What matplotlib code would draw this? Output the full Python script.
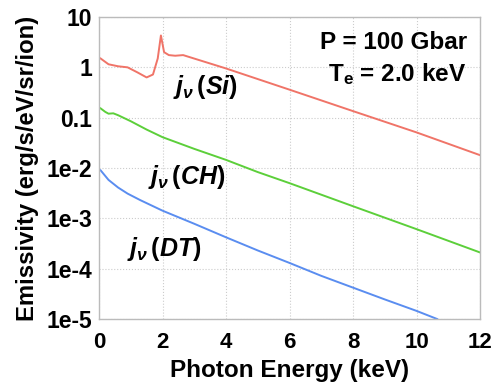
import matplotlib
matplotlib.use("Agg")
import matplotlib.pyplot as plt
import numpy as np

plt.rcParams['font.family'] = ['Liberation Sans', 'DejaVu Sans']
plt.rcParams['mathtext.fontset'] = 'custom'
plt.rcParams['mathtext.rm'] = 'Liberation Sans:bold'
plt.rcParams['mathtext.it'] = 'Liberation Sans:bold:italic'
plt.rcParams['mathtext.bf'] = 'Liberation Sans:bold'

# Data (photon energy in keV, emissivity)
si_x = [0.05, 0.3, 0.6, 0.9, 1.2, 1.5, 1.7, 1.85, 1.95, 2.05, 2.2, 2.4, 2.65, 4.0, 6.0, 8.0, 10.0, 12.0]
si_y = [1.5, 1.15, 1.05, 1.0, 0.8, 0.63, 0.72, 1.5, 4.3, 2.0, 1.75, 1.7, 1.75, 0.95, 0.36, 0.135, 0.051, 0.018]

ch_x = [0.05, 0.2, 0.3, 0.45, 0.6, 1.0, 1.5, 2.0, 3.0, 4.0, 5.0, 6.0, 8.0, 10.0, 12.0]
ch_y = [0.153, 0.13, 0.12, 0.122, 0.112, 0.085, 0.058, 0.041, 0.024, 0.0145, 0.0083, 0.0050, 0.00174, 0.00061, 0.00021]

dt_x = [0.05, 0.3, 0.6, 0.9, 1.3, 2.0, 3.0, 4.0, 5.0, 6.0, 7.0, 8.0, 9.0, 10.0, 10.65]
dt_y = [0.0090, 0.0058, 0.0041, 0.0031, 0.0023, 0.00142, 0.00078, 0.00042, 0.00023, 0.00013, 0.000072, 0.000042, 0.0000245, 0.0000145, 0.0000100]

xticks = [0, 2, 4, 6, 8, 10, 12]
yticks = [1e-5, 1e-4, 1e-3, 1e-2, 0.1, 1, 10]
ytick_labels = ['1e-5', '1e-4', '1e-3', '1e-2', '0.1', '1', '10']

fig = plt.figure(figsize=(4.94, 3.83), dpi=100)
ax = fig.add_axes([99/494, 1 - 319/383, (480-99)/494, (319-17)/383])

ax.plot(si_x, si_y, color='#f07468', lw=1.4)
ax.plot(ch_x, ch_y, color='#5ccf3a', lw=1.4)
ax.plot(dt_x, dt_y, color='#5a8df0', lw=1.4)

ax.set_yscale('log')
ax.set_xlim(0, 12)
ax.set_ylim(1e-5, 10)
ax.set_xticks(xticks)
ax.set_xticklabels([str(t) for t in xticks])
ax.set_yticks(yticks)
ax.set_yticklabels(ytick_labels)
ax.minorticks_off()
ax.tick_params(axis='x', length=0, labelsize=16, pad=9)
ax.tick_params(axis='y', length=0, labelsize=16.5, pad=5)
for lab in ax.get_xticklabels() + ax.get_yticklabels():
    lab.set_fontweight('bold')
ax.grid(True, color='#cccccc', linestyle=':', linewidth=0.8)
for s in ax.spines.values():
    s.set_color('#bbbbbb')
    s.set_linewidth(1.0)

fig.text(289.5/494, (383-377)/383, 'Photon Energy (keV)', fontsize=17.5, fontweight='bold',
         ha='center', va='baseline')
ax.set_ylabel('Emissivity (erg/s/eV/sr/ion)', fontsize=17.2, fontweight='bold', labelpad=5)

ax.text(0.965, 0.955, 'P = 100 Gbar', transform=ax.transAxes, ha='right', va='top',
        fontsize=17.5, fontweight='bold')
ax.text(0.965, 0.855, r'T$_{\mathrm{e}}$ = 2.0 keV', transform=ax.transAxes, ha='right', va='top',
        fontsize=17.5, fontweight='bold')

lab_kw = dict(fontsize=18, va='baseline', ha='left')
ax.text(2.33, 0.30, r'$j_{\nu}\,\mathrm{(}Si\mathrm{)}$', **lab_kw)
ax.text(1.54, 0.0049, r'$j_{\nu}\,\mathrm{(}CH\mathrm{)}$', **lab_kw)
ax.text(0.88, 0.00018, r'$j_{\nu}\,\mathrm{(}DT\mathrm{)}$', **lab_kw)

fig.savefig('out.png', dpi=100)
